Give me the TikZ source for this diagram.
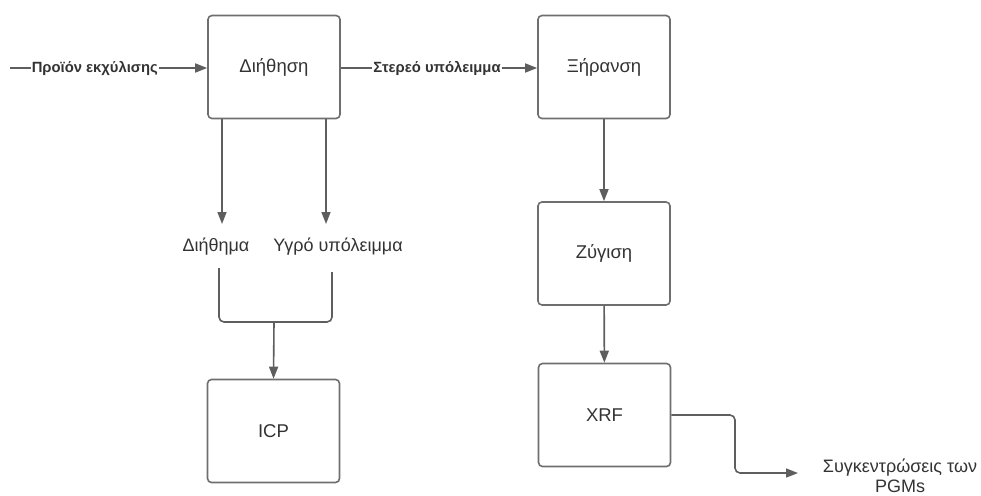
\documentclass[tikz,border=0pt]{standalone}
\usepackage{fontspec}
\setmainfont{Liberation Sans}
\usetikzlibrary{arrows.meta}
\definecolor{boxc}{HTML}{6E6E6E}
\definecolor{linec}{HTML}{5E5E5E}
\definecolor{txt}{HTML}{333333}
\begin{document}
\begin{tikzpicture}[x=1pt,y=-1pt,
  box/.style={draw=boxc, line width=1.6pt, rounded corners=4pt, minimum width=132pt, minimum height=103pt, inner sep=0pt, font=\fontsize{18.5}{22}\selectfont, text=txt},
  plain/.style={draw=linec, line width=1.6pt},
  conn/.style={plain, -{Triangle[length=12pt,width=9pt]}},
  lab/.style={fill=white, inner sep=1pt, font=\fontsize{14.8}{17}\selectfont\bfseries, text=txt},
  txtlab/.style={inner sep=0pt, font=\fontsize{18}{20}\selectfont, text=txt}
]
\useasboundingbox (0,0) rectangle (981,495);
\node[box] (dih) at (274,67) {Διήθηση};
\node[box] (xir) at (604,67) {Ξήρανση};
\node[box] (zyg) at (604,253.5) {Ζύγιση};
\node[box] (xrf) at (604.5,415) {XRF};
\node[box] (icp) at (273.5,431) {ICP};
\node[txtlab] (dl) at (216,247) {Διήθημα};
\node[txtlab] (yl) at (338,247) {Υγρό υπόλειμμα};
\node[txtlab, align=center] (out) at (900,476) {Συγκεντρώσεις των\\PGMs};
\coordinate (in) at (10,68);
\coordinate (a1) at (222,224);
\coordinate (a2) at (326,224);
\coordinate (m1) at (219,268);
\coordinate (m2) at (332,272);
\coordinate (j) at (274,322);
\coordinate (o1) at (735,415);
\coordinate (o2) at (798,473);
\draw[conn] (in) -- node[lab, pos=0.43] {Προϊόν εκχύλισης} (dih.west |- in);
\draw[conn] (dih.east |- in) -- node[lab, pos=0.49] {Στερεό υπόλειμμα} (xir.west |- in);
\draw[conn] (dih.south -| a1) -- (a1);
\draw[conn] (dih.south -| a2) -- (a2);
\draw[plain, rounded corners=5pt] (m1) -- (m1 |- j) -- (m2 |- j) -- (m2);
\draw[conn] (j) -- (icp.north);
\draw[conn] (xir) -- (zyg);
\draw[conn] (zyg) -- (xrf);
\draw[conn, rounded corners=5pt] (xrf.east) -- (o1) -- (o1 |- o2) -- (o2);
\end{tikzpicture}
\end{document}
